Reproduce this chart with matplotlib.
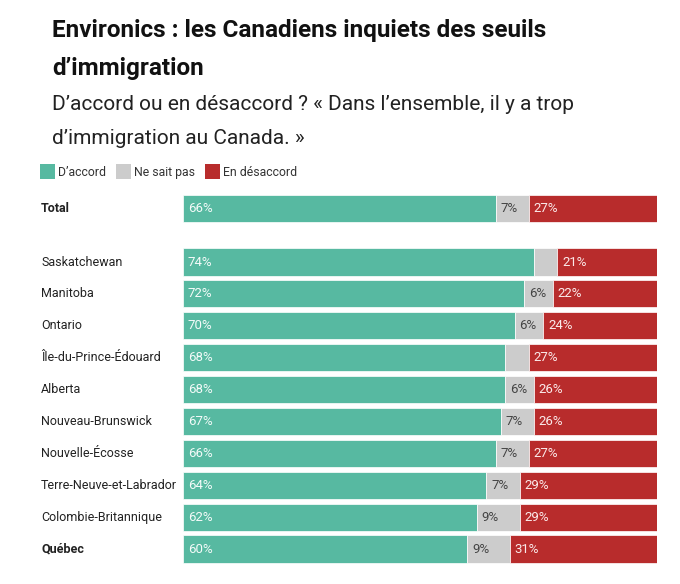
import matplotlib
matplotlib.use("Agg")
import matplotlib.pyplot as plt
from matplotlib.transforms import blended_transform_factory
import numpy as np

plt.rcParams['font.family'] = ['Roboto', 'DejaVu Sans']

categories = ["Total", "Saskatchewan", "Manitoba", "Ontario", "Île-du-Prince-Édouard",
              "Alberta", "Nouveau-Brunswick", "Nouvelle-Écosse",
              "Terre-Neuve-et-Labrador", "Colombie-Britannique", "Québec"]
agree = [66, 74, 72, 70, 68, 68, 67, 66, 64, 62, 60]
dontknow = [7, 5, 6, 6, 5, 6, 7, 7, 7, 9, 9]
disagree = [27, 21, 22, 24, 27, 26, 26, 27, 29, 29, 31]
bold_rows = ["Total", "Québec"]

series_names = ["D’accord", "Ne sait pas", "En désaccord"]
colors = ["#57b9a1", "#cccccc", "#b82c2c"]
text_colors = ["#f4fbf9", "#444444", "#fbeaea"]

W, H = 680, 584
fig = plt.figure(figsize=(W / 100, H / 100), dpi=100)

top_px, bot_px = 192.5, 565.0
left_px, right_px = 183.0, 657.0
ax = fig.add_axes([left_px / W, 1 - bot_px / H, (right_px - left_px) / W, (bot_px - top_px) / H])

ypos = np.array([0.0] + [1.68 + i for i in range(len(categories) - 1)])
h = 0.85
vals = [agree, dontknow, disagree]
lefts = np.zeros(len(categories))
for k, v in enumerate(vals):
    v = np.array(v, dtype=float)
    ax.barh(ypos, v, left=lefts, height=h, color=colors[k], edgecolor="white", linewidth=0.5)
    for i, val in enumerate(v):
        if val >= 6:
            ax.text(lefts[i] + 1.0, ypos[i], f"{int(val)}%", va="center", ha="left",
                    fontsize=9.5, color=text_colors[k])
    lefts += v

ax.set_xlim(0, 100)
ax.set_ylim(ypos[-1] + 0.5, -0.5)
ax.axis("off")

trans = blended_transform_factory(fig.transFigure, ax.transData)
for i, c in enumerate(categories):
    ax.text(41 / W, ypos[i], c, transform=trans, va="center", ha="left", fontsize=9,
            color="#222222", fontweight="bold" if c in bold_rows else "normal")

# Title & subtitle
fig.text(52 / W, 1 - 30 / H, "Environics : les Canadiens inquiets des seuils", fontsize=17.5,
         fontweight="bold", color="#111111", va="center", ha="left")
fig.text(52 / W, 1 - 68 / H, "d’immigration", fontsize=17.5,
         fontweight="bold", color="#111111", va="center", ha="left")
fig.text(52 / W, 1 - 104 / H, "D’accord ou en désaccord ? « Dans l’ensemble, il y a trop",
         fontsize=15, color="#222222", va="center", ha="left")
fig.text(52 / W, 1 - 139 / H, "d’immigration au Canada. »",
         fontsize=15, color="#222222", va="center", ha="left")

# Legend
leg_y = 172
items = [(40, series_names[0]), (116, series_names[1]), (205, series_names[2])]
for (x0, name), col in zip(items, colors):
    fig.patches.append(plt.Rectangle((x0 / W, 1 - (leg_y + 7.5) / H), 15 / W, 15 / H,
                                     transform=fig.transFigure, facecolor=col, edgecolor="none"))
    fig.text((x0 + 18) / W, 1 - leg_y / H, name, fontsize=8.8, color="#333333",
             va="center", ha="left")

fig.savefig("out.png", dpi=100, facecolor="white")
